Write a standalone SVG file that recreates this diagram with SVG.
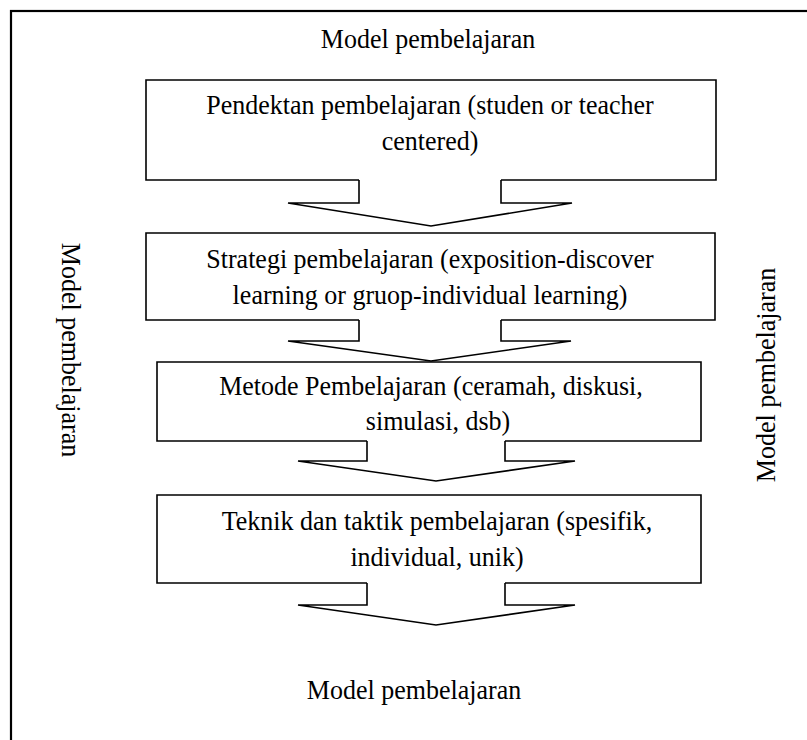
<svg xmlns="http://www.w3.org/2000/svg" width="807" height="740" viewBox="0 0 807 740">
<style>
.t{font-family:"Liberation Serif","Times New Roman",serif;font-size:26px;fill:#000;text-anchor:middle}
.box{fill:none;stroke:#000;stroke-width:1.6}
.arr{fill:none;stroke:#000;stroke-width:1.6;stroke-linejoin:miter}
.frame{fill:none;stroke:#000;stroke-width:2.2}
</style>
<rect width="807" height="740" fill="#fff"/>
<rect class="frame" x="11" y="11" width="830" height="760"/>
<g id="label-top"><text class="t" transform="translate(428,48) scale(1,1.08)">Model pembelajaran</text></g>
<g id="label-bottom"><text class="t" transform="translate(414,699) scale(1,1.08)">Model pembelajaran</text></g>
<g id="label-left"><text class="t" transform="translate(62,350) rotate(90) scale(1,1.08)">Model pembelajaran</text></g>
<g id="label-right"><text class="t" transform="translate(775,375) rotate(-90) scale(1,1.08)">Model pembelajaran</text></g>
<g id="node-pendekatan">
<path class="box" d="M359,180 H146 V80 H716 V180 H501"/>
<text class="t" transform="translate(430,114) scale(1,1.08)">Pendektan pembelajaran (studen or teacher</text>
<text class="t" transform="translate(430,150) scale(1,1.08)">centered)</text>
</g>
<g id="node-strategi">
<path class="box" d="M359,320 H146 V233 H715 V320 H501"/>
<text class="t" transform="translate(430,268) scale(1,1.08)">Strategi pembelajaran (exposition-discover</text>
<text class="t" transform="translate(430,304) scale(1,1.08)">learning or gruop-individual learning)</text>
</g>
<g id="node-metode">
<path class="box" d="M367,441 H157 V362 H701 V441 H505"/>
<text class="t" transform="translate(431,395) scale(1,1.08)">Metode Pembelajaran (ceramah, diskusi,</text>
<text class="t" transform="translate(438,430) scale(1,1.08)">simulasi, dsb)</text>
</g>
<g id="node-teknik">
<path class="box" d="M367,583 H157 V495 H701 V583 H505"/>
<text class="t" transform="translate(437,530) scale(1,1.08)">Teknik dan taktik pembelajaran (spesifik,</text>
<text class="t" transform="translate(437,566) scale(1,1.08)">individual, unik)</text>
</g>
<g id="connectors">
<path class="arr" d="M359,180 V203 H288 L431,226 L572,203 H501 V180"/>
<path class="arr" d="M359,320 V341 H288 L431,361 L571,341 H501 V320"/>
<path class="arr" d="M367,441 V461 H298 L436,481 L575,461 H505 V441"/>
<path class="arr" d="M367,583 V605 H298 L436,625 L575,605 H505 V583"/>
</g>
</svg>
